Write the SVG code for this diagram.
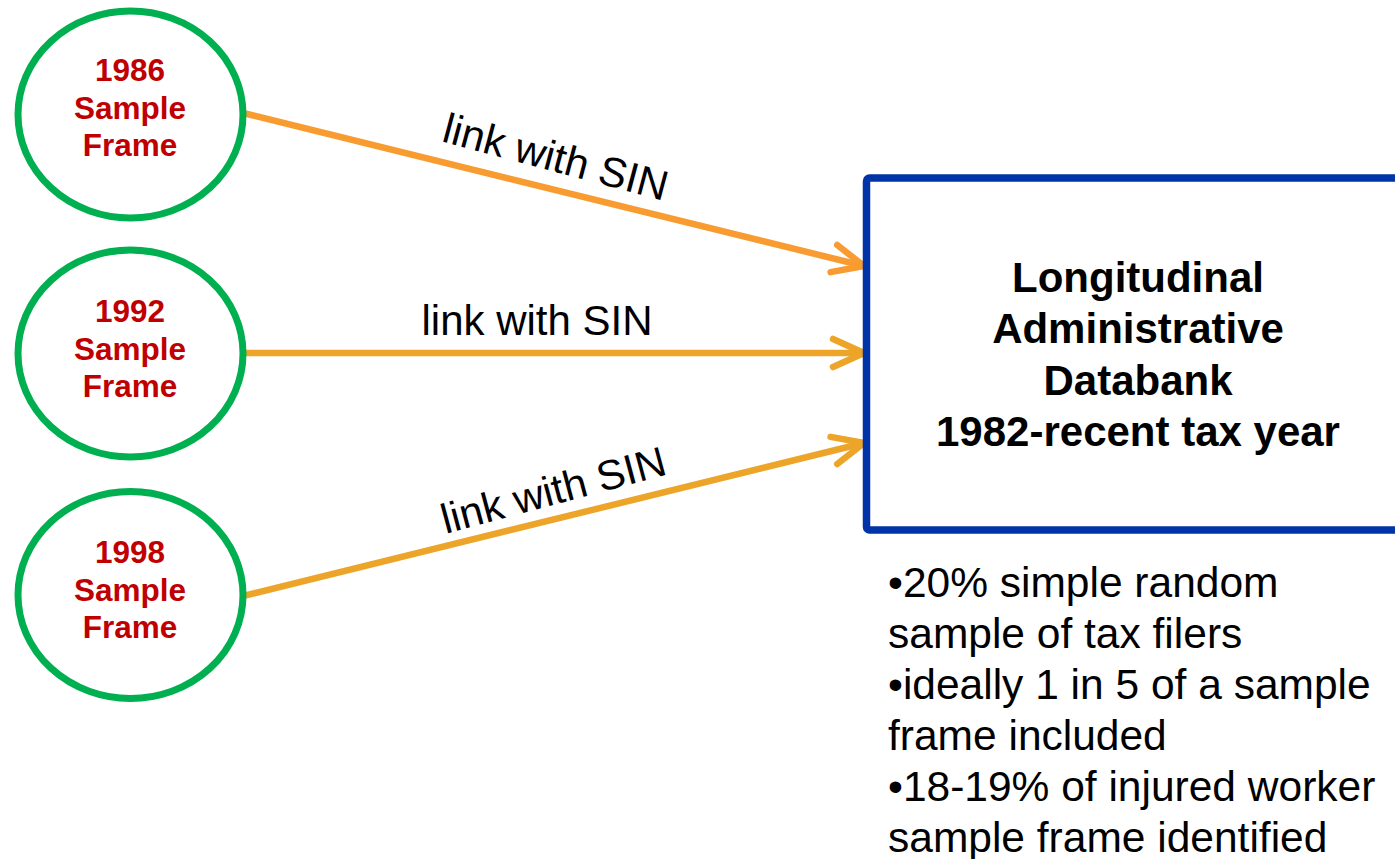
<svg xmlns="http://www.w3.org/2000/svg" width="1395" height="859" viewBox="0 0 1395 859">
<style>
.frame{fill:#fff;stroke:#00B050;stroke-width:7}
.ft{font-family:"Liberation Sans",Arial,sans-serif;font-weight:bold;font-size:31.5px;fill:#C00000;text-anchor:middle}
.box{fill:#fff;stroke:#0033A8;stroke-width:7.5}
.bt{font-family:"Liberation Sans",Arial,sans-serif;font-weight:bold;font-size:42px;fill:#000;text-anchor:middle}
.lbl{font-family:"Liberation Sans",Arial,sans-serif;font-size:42px;fill:#000;text-anchor:middle}
.note{font-family:"Liberation Sans",Arial,sans-serif;font-size:42.5px;fill:#000}
.c1{stroke:#F89C32;stroke-width:6.5;fill:none;stroke-linecap:round}
.c2{stroke:#ECA528;stroke-width:6.5;fill:none;stroke-linecap:round}
</style>
<defs>
<marker id="ah1" markerUnits="userSpaceOnUse" markerWidth="80" markerHeight="80" refX="0" refY="0" orient="auto" overflow="visible">
<path d="M-31,-14 L0,0 L-31,14" fill="none" stroke="#F89C32" stroke-width="6.5" stroke-linecap="round" stroke-linejoin="round"/>
</marker>
<marker id="ah2" markerUnits="userSpaceOnUse" markerWidth="80" markerHeight="80" refX="0" refY="0" orient="auto" overflow="visible">
<path d="M-31,-14 L0,0 L-31,14" fill="none" stroke="#ECA528" stroke-width="6.5" stroke-linecap="round" stroke-linejoin="round"/>
</marker>
</defs>
<rect width="1395" height="859" fill="#fff"/>
<g id="connectors">
<line class="c1" x1="243" y1="113" x2="864" y2="266" marker-end="url(#ah1)"/>
<line class="c2" x1="243" y1="353" x2="864" y2="353" marker-end="url(#ah2)"/>
<line class="c2" x1="243" y1="596" x2="864" y2="443" marker-end="url(#ah2)"/>
<text class="lbl" transform="translate(552,171) rotate(15)">link with SIN</text>
<text class="lbl" x="537" y="335">link with SIN</text>
<text class="lbl" transform="translate(557,504) rotate(-15)">link with SIN</text>
</g>
<g id="frame1986">
<ellipse class="frame" cx="130.5" cy="114.5" rx="112.5" ry="103.5"/>
<text class="ft" x="130" y="81">1986</text>
<text class="ft" x="130" y="119">Sample</text>
<text class="ft" x="130" y="156">Frame</text>
</g>
<g id="frame1992">
<ellipse class="frame" cx="130.5" cy="353.5" rx="112.5" ry="103.5"/>
<text class="ft" x="130" y="322">1992</text>
<text class="ft" x="130" y="360">Sample</text>
<text class="ft" x="130" y="397">Frame</text>
</g>
<g id="frame1998">
<ellipse class="frame" cx="130.5" cy="595" rx="112.5" ry="103.5"/>
<text class="ft" x="130" y="563">1998</text>
<text class="ft" x="130" y="601">Sample</text>
<text class="ft" x="130" y="638">Frame</text>
</g>
<g id="databank">
<rect class="box" x="866.5" y="178" width="560" height="352" rx="3"/>
<text class="bt" x="1138" y="292">Longitudinal</text>
<text class="bt" x="1138" y="343">Administrative</text>
<text class="bt" x="1138" y="395">Databank</text>
<text class="bt" x="1138" y="446">1982-recent tax year</text>
</g>
<g id="notes">
<text class="note" x="888" y="597">•20% simple random</text>
<text class="note" x="888" y="648">sample of tax filers</text>
<text class="note" x="888" y="699">•ideally 1 in 5 of a sample</text>
<text class="note" x="888" y="750">frame included</text>
<text class="note" x="888" y="801">•18-19% of injured worker</text>
<text class="note" x="888" y="852">sample frame identified</text>
</g>
</svg>
